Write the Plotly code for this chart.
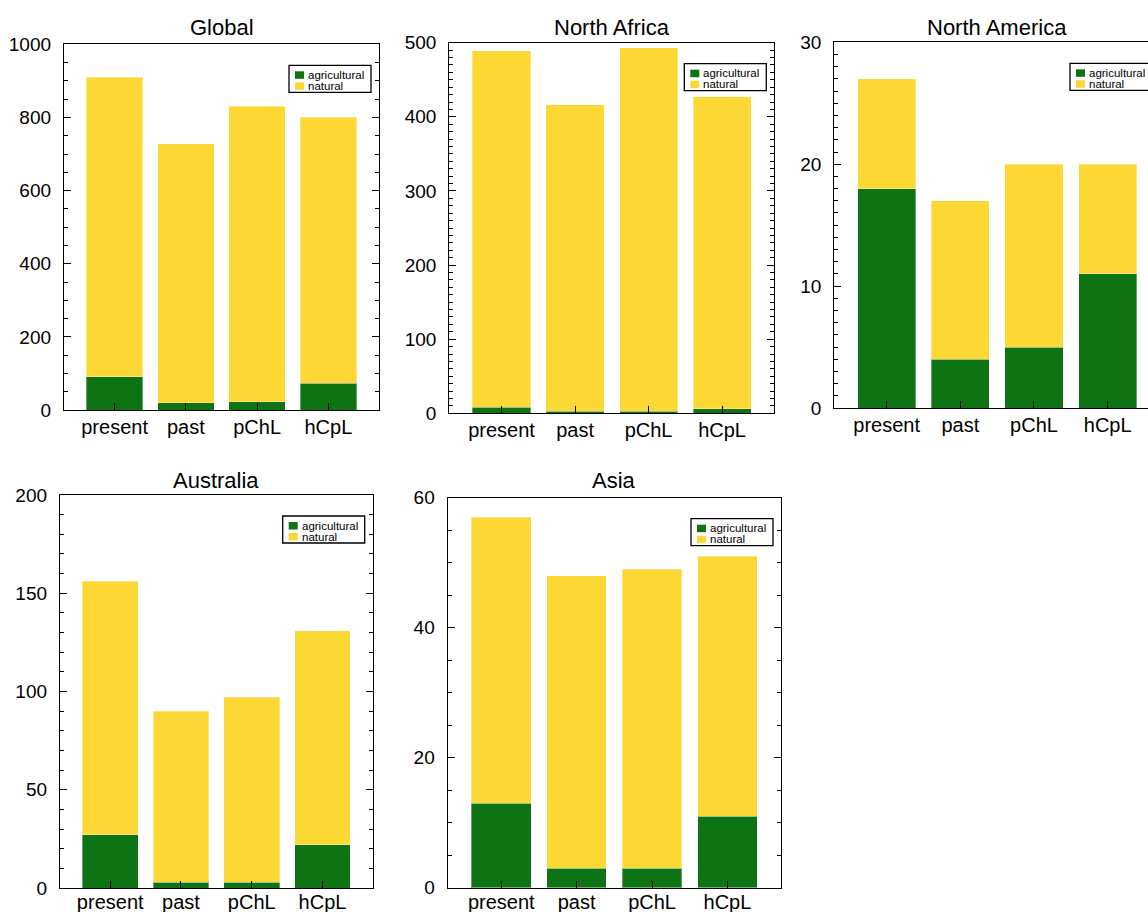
import plotly.graph_objects as go

# ---------------- data ----------------
scenarios = ["present", "past", "pChL", "hCpL"]
regions = ["Global", "North Africa", "North America", "Australia", "Asia"]

global_agricultural = [91, 20, 23, 73]
global_natural = [819, 708, 808, 727]
north_africa_agricultural = [8, 3, 3, 6]
north_africa_natural = [481, 413, 490, 421]
north_america_agricultural = [18, 4, 5, 11]
north_america_natural = [9, 13, 15, 9]
australia_agricultural = [27, 3, 3, 22]
australia_natural = [129, 87, 94, 109]
asia_agricultural = [13, 3, 3, 11]
asia_natural = [44, 45, 46, 40]

agricultural = [global_agricultural, north_africa_agricultural, north_america_agricultural,
                australia_agricultural, asia_agricultural]
natural = [global_natural, north_africa_natural, north_america_natural,
           australia_natural, asia_natural]

y_max = [1000, 500, 30, 200, 60]
y_major_step = [200, 100, 10, 50, 20]
y_minor_step = [50, 10, 1, 10, 5]

# ---------------- layout (pixels) ----------------
W, H = 1148, 912
# plot areas: left, right, top, bottom (North America extends past the page edge)
boxes = [(64, 379, 44.3, 410), (449.3, 774.3, 42.7, 413.3), (834.3, 1160, 42.3, 408),
         (60, 372.7, 495, 888), (447.7, 781, 497.7, 887.7)]
title_y = [28, 28, 28, 480, 480]
label_lift = [-2.5, -2.5, -2.5, 0, 0]   # pixel offset of the category labels from the axis

GREEN = "#0E7413"
YELLOW = "#FDD733"
FONT = "Liberation Sans, Arial, Helvetica, sans-serif"

def px(x):
    return x / W

def py(y):
    return 1 - y / H

fig = go.Figure()
shapes = []
annotations = []
positions = list(range(len(scenarios)))

for i, region in enumerate(regions):
    n = i + 1
    xa = "x" if n == 1 else f"x{n}"
    ya = "y" if n == 1 else f"y{n}"
    xl = f"x{n + 5}"
    l, r, t, b = boxes[i]
    right_vis = min(r, W)
    x_lo = -0.71
    x_hi = -0.71 + (3.71 + 0.71) * (right_vis - l) / (r - l)

    fig.add_trace(go.Bar(x=positions, y=agricultural[i], name="agricultural",
                         marker=dict(color=GREEN, line=dict(color="rgba(255,255,255,0.35)", width=1)),
                         width=0.79, xaxis=xa, yaxis=ya, showlegend=False,
                         customdata=scenarios, hovertemplate="%{customdata}: %{y}<extra>agricultural</extra>"))
    fig.add_trace(go.Bar(x=positions, y=natural[i], name="natural",
                         marker=dict(color=YELLOW, line=dict(color="rgba(255,255,255,0.35)", width=1)),
                         width=0.79, xaxis=xa, yaxis=ya, showlegend=False,
                         customdata=scenarios, hovertemplate="%{customdata}: %{y}<extra>natural</extra>"))
    # invisible helper so the label-only axis is drawn
    fig.add_trace(go.Scatter(x=positions, y=[0] * len(positions), xaxis=xl, yaxis=ya,
                             mode="markers", marker=dict(opacity=0, size=1),
                             hoverinfo="skip", showlegend=False))

    xkey = "xaxis" if n == 1 else f"xaxis{n}"
    ykey = "yaxis" if n == 1 else f"yaxis{n}"
    fig.layout[xkey] = dict(
        domain=[px(l), px(right_vis)], anchor=ya, range=[x_lo, x_hi],
        tickmode="array", tickvals=positions, showticklabels=False,
        showline=True, linecolor="black", linewidth=1.3,
        mirror=True, ticks="inside", ticklen=7, tickcolor="black", tickwidth=1,
        showgrid=False, zeroline=False, automargin=False,
    )
    # label-only overlay axis carrying the scenario names
    fig.layout[f"xaxis{n + 5}"] = dict(
        overlaying=xa, anchor="free", position=py(b - label_lift[i]),
        range=[x_lo, x_hi], tickmode="array", tickvals=positions, ticktext=scenarios,
        showline=False, ticks="", showgrid=False, zeroline=False, automargin=False,
        tickfont=dict(family=FONT, size=20, color="black"), ticklabelstandoff=0,
    )
    fig.layout[ykey] = dict(
        domain=[py(b), py(t)], anchor=xa, range=[0, y_max[i]],
        tickmode="linear", tick0=0, dtick=y_major_step[i],
        showline=True, linecolor="black", linewidth=1.3,
        mirror=("ticks" if r <= W else False),
        ticks="inside", ticklen=7, tickcolor="black", tickwidth=1,
        minor=dict(dtick=y_minor_step[i], tick0=0, ticks="inside", ticklen=4,
                   tickcolor="black", tickwidth=1, showgrid=False),
        showgrid=False, zeroline=False, automargin=False,
        tickfont=dict(family=FONT, size=19, color="black"), ticklabelstandoff=8,
    )

    # title
    annotations.append(dict(text=region, x=px((l + r) / 2), y=py(title_y[i]),
                            xref="paper", yref="paper", xanchor="center", yanchor="middle",
                            showarrow=False, font=dict(family=FONT, size=22, color="black")))

    # legend box
    lx0 = r - 90
    lx1 = lx0 + 82
    ly0 = t + 21
    ly1 = ly0 + 27
    shapes.append(dict(type="rect", xref="paper", yref="paper",
                       x0=px(lx0), x1=px(lx1), y0=py(ly1), y1=py(ly0),
                       line=dict(color="black", width=1.3), fillcolor="white", layer="above"))
    for k, (lab, col) in enumerate([("agricultural", GREEN), ("natural", YELLOW)]):
        cy = ly0 + 9.5 + k * 11
        shapes.append(dict(type="rect", xref="paper", yref="paper",
                           x0=px(lx0 + 6), x1=px(lx0 + 15), y0=py(cy + 4), y1=py(cy - 3.5),
                           line=dict(width=0), fillcolor=col, layer="above"))
        annotations.append(dict(text=lab, x=px(lx0 + 17), y=py(cy), xref="paper", yref="paper",
                                xanchor="left", yanchor="middle", showarrow=False,
                                font=dict(family=FONT, size=11.5, color="black")))

fig.update_layout(
    template="none",
    width=W, height=H, margin=dict(l=0, r=0, t=0, b=0, autoexpand=False),
    barmode="stack", bargap=0.2,
    paper_bgcolor="white", plot_bgcolor="white",
    shapes=shapes, annotations=annotations, showlegend=False,
)

fig.write_html("out.html", config={"displayModeBar": False},
               post_script="document.body.style.margin='0';document.body.style.overflow='hidden';")
